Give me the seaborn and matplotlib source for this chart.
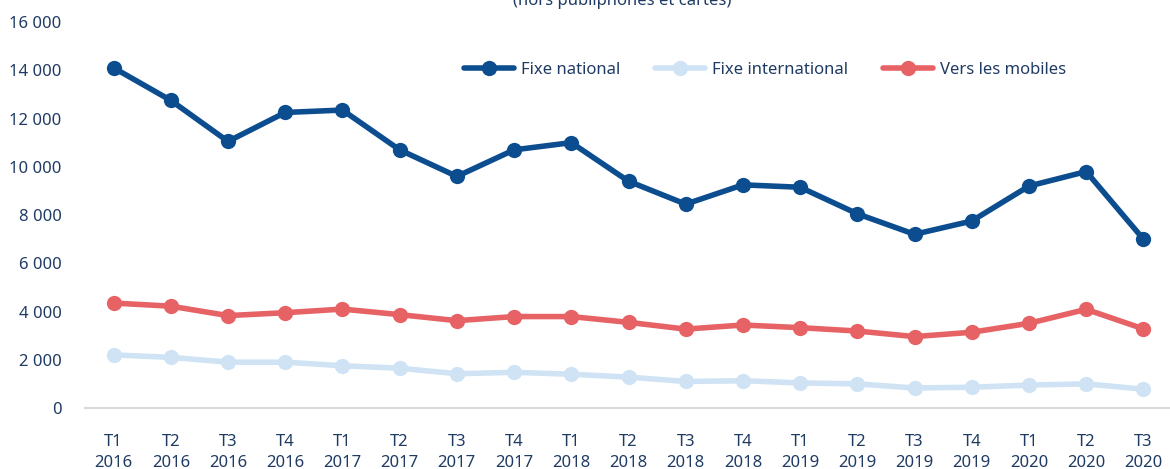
import matplotlib
matplotlib.use("Agg")
import matplotlib.pyplot as plt
import pandas as pd
import seaborn as sns

# Data
quarters = ['T1', 'T2', 'T3', 'T4'] * 4 + ['T1', 'T2', 'T3']
years = [2016] * 4 + [2017] * 4 + [2018] * 4 + [2019] * 4 + [2020] * 3
fixe_national = [14100, 12750, 11050, 12250, 12350, 10700, 9600, 10700, 11000, 9400,
                 8450, 9250, 9150, 8050, 7200, 7750, 9200, 9800, 7000]
fixe_international = [2200, 2100, 1900, 1900, 1750, 1650, 1420, 1480, 1400, 1280,
                      1100, 1130, 1040, 1000, 830, 860, 950, 1000, 780]
vers_mobiles = [4350, 4220, 3830, 3950, 4100, 3870, 3620, 3790, 3790, 3550,
                3270, 3440, 3330, 3190, 2960, 3140, 3510, 4090, 3280]

series = ['Fixe national', 'Fixe international', 'Vers les mobiles']
colors = ['#0B4D8E', '#CFE3F5', '#E66264']
navy = '#1F3B64'

labels = [f"{q}\n{y}" for q, y in zip(quarters, years)]
n = len(labels)
df = pd.DataFrame({
    'pos': list(range(n)) * 3,
    'value': fixe_national + fixe_international + vers_mobiles,
    'serie': [series[0]] * n + [series[1]] * n + [series[2]] * n,
})

sns.set_theme(style='white')
plt.rcParams['font.family'] = ['Noto Sans', 'DejaVu Sans']

fig = plt.figure(figsize=(11.7, 4.69), dpi=100)
ax = fig.add_axes([85 / 1170, 61 / 469, 1087 / 1170, 386 / 469])

sns.lineplot(data=df, x='pos', y='value', hue='serie', hue_order=series,
             palette=colors, marker='o', markersize=11, markeredgewidth=0,
             linewidth=4, ax=ax)

ax.set_xlim(-0.5, n - 0.5)
ax.set_ylim(0, 16000)
ax.set_xticks(range(n))
ax.set_xticklabels(labels, fontsize=12, color=navy, linespacing=1.35)
yt = list(range(0, 16001, 2000))
ax.set_yticks(yt)
ax.set_yticklabels([f"{v:,}".replace(',', ' ') for v in yt], fontsize=12, color=navy)
ax.tick_params(axis='both', length=0)
ax.tick_params(axis='x', pad=19)
ax.tick_params(axis='y', pad=17)
ax.set_xlabel('')
ax.set_ylabel('')
for s in ['top', 'right', 'left']:
    ax.spines[s].set_visible(False)
ax.spines['bottom'].set_color('#D9D9D9')
ax.spines['bottom'].set_linewidth(1.5)

handles, lbls = ax.get_legend_handles_labels()
ax.legend(handles, lbls, loc='center', bbox_to_anchor=(765 / 1170, 1 - 70 / 469),
          bbox_transform=fig.transFigure, ncol=3, frameon=False, fontsize=12,
          handlelength=3.0, handletextpad=0.4, columnspacing=2.1, labelcolor=navy)

fig.text(622 / 1170, 1 - 9 / 469, '(hors publiphones et cartes)', ha='center',
         va='bottom', fontsize=12, color=navy)

fig.savefig('out.png', dpi=100)
